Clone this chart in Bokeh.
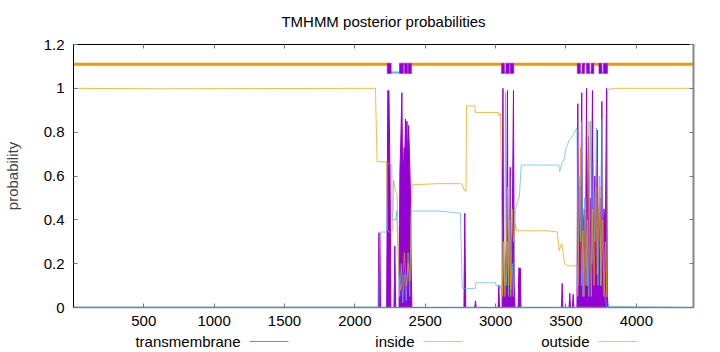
from bokeh.plotting import figure
from bokeh.models import Range1d, FixedTicker, LinearAxis
from bokeh.layouts import column
from bokeh.embed import file_html
from bokeh.resources import INLINE
from bokeh.core.properties import value

# ---------------- data ----------------
seq_len = 4406
title_text = "TMHMM posterior probabilities"
x_ticks = [500, 1000, 1500, 2000, 2500, 3000, 3500, 4000]
y_ticks = [0.0, 0.2, 0.4, 0.6, 0.8, 1.0, 1.2]
y_labels = ["0", "0.2", "0.4", "0.6", "0.8", "1", "1.2"]
legend_labels = ["transmembrane", "inside", "outside"]

# posterior probability curves (residue, probability)
tm_x = [1, 2166, 2170, 2178, 2182,
        2226, 2234, 2242, 2250, 2256,
        2278, 2284, 2290,
        2314, 2320, 2326, 2334, 2338, 2344, 2350, 2354, 2360, 2364, 2370, 2374, 2382, 2388, 2394, 2400, 2405,
        2775, 2781, 2788,
        2852, 2857, 2862,
        3018, 3023, 3028,
        3046, 3052, 3057, 3064, 3078, 3084, 3089, 3098, 3104, 3109, 3118, 3127, 3132, 3138,
        3160, 3165, 3176, 3180,
        3468, 3473, 3478,
        3522, 3527, 3532,
        3546, 3551, 3556,
        3578, 3584, 3589, 3598, 3604, 3612, 3617, 3630, 3640, 3646, 3651, 3660, 3665, 3672, 3680,
        3688, 3693, 3705, 3715, 3722, 3728, 3740, 3748, 3755, 3760, 3770, 3780, 3788, 3794, 3800,
        4406]
tm_y = [0.0, 0.0, 0.34, 0.34, 0.0,
        0.0, 0.99, 0.99, 0.6, 0.0,
        0.0, 0.28, 0.0,
        0.0, 0.62, 0.75, 0.98, 0.7, 0.62, 0.73, 0.66, 0.86, 0.7, 0.85, 0.68, 0.83, 0.7, 0.55, 0.2, 0.0,
        0.0, 0.43, 0.0,
        0.0, 0.03, 0.0,
        0.0, 0.1, 0.0,
        0.0, 1.0, 0.15, 0.1, 0.3, 0.99, 0.15, 0.3, 0.64, 0.2, 0.35, 0.99, 0.1, 0.0,
        0.0, 0.18, 0.18, 0.0,
        0.0, 0.11, 0.0,
        0.0, 0.065, 0.0,
        0.0, 0.06, 0.0,
        0.0, 0.93, 0.3, 0.55, 0.35, 0.98, 0.3, 0.45, 0.35, 1.0, 0.3, 0.78, 0.3, 0.5, 0.35,
        0.99, 0.3, 0.6, 0.4, 0.81, 0.35, 0.5, 0.35, 0.94, 0.3, 0.45, 0.35, 1.0, 0.05, 0.0,
        0.0]

inside_x = [1, 2170, 2176, 2225, 2230, 2262, 2266, 2290, 2296, 2305, 2318, 2330, 2340, 2352, 2365,
            2378, 2390, 2400, 2600, 2750, 2763, 2855, 2860, 2999, 3003, 3035, 3045, 3055, 3064,
            3070, 3076, 3085, 3092, 3100, 3108, 3118, 3126, 3140, 3165, 3168, 3182, 3449, 3455,
            3461, 3470, 3490, 3497, 3510, 3520, 3545, 3568, 3578, 3586, 3594, 3603, 3612, 3620,
            3632, 3642, 3654, 3662, 3675, 3684, 3694, 3704, 3716, 3728, 3740, 3748, 3756, 3765,
            3778, 3790, 3800, 4406]
inside_y = [0.002, 0.002, 0.344, 0.344, 0.66, 0.65, 0.40, 0.40, 0.44, 0.3, 0.05, 0.2, 0.02, 0.15, 0.03,
            0.25, 0.05, 0.44, 0.44, 0.43, 0.087, 0.087, 0.113, 0.113, 0.1, 0.1, 0.05, 0.3, 0.1,
            0.98, 0.1, 0.3, 0.05, 0.6, 0.08, 0.2, 0.05, 0.45, 0.50, 0.50, 0.65, 0.65, 0.62,
            0.63, 0.66, 0.68, 0.72, 0.74, 0.76, 0.78, 0.81, 0.82, 0.1, 0.6, 0.3, 0.85, 0.05,
            0.5, 0.1, 0.4, 0.05, 0.85, 0.2, 0.66, 0.3, 0.82, 0.1, 0.55, 0.1, 0.86, 0.2,
            0.05, 0.0, 0.005, 0.0]

outside_x = [1, 600, 2146, 2158, 2225, 2232, 2262, 2268, 2275, 2290, 2300, 2312, 2325, 2340, 2352,
             2365, 2380, 2392, 2400, 2407, 2600, 2750, 2763, 2778, 2790, 2793, 2852, 2856, 3021,
             3025, 3035, 3042, 3050, 3058, 3066, 3075, 3085, 3092, 3100, 3108, 3118, 3128, 3140,
             3150, 3177, 3367, 3438, 3452, 3462, 3470, 3480, 3490, 3510, 3580, 3584, 3592, 3603,
             3610, 3620, 3628, 3640, 3652, 3663, 3670, 3680, 3690, 3700, 3712, 3722, 3738, 3748,
             3760, 3770, 3780, 3790, 3795, 3802, 3850, 4406]
outside_y = [1.0, 0.998, 1.0, 0.665, 0.665, 0.35, 0.34, 0.36, 0.58, 0.53, 0.52, 0.15, 0.08, 0.12, 0.25,
             0.1, 0.2, 0.12, 0.45, 0.56, 0.565, 0.565, 0.56, 0.535, 0.53, 0.92, 0.92, 0.89, 0.89,
             0.875, 0.885, 0.5, 0.05, 0.3, 0.05, 0.2, 0.55, 0.1, 0.4, 0.05, 0.45, 0.3, 0.38,
             0.35, 0.35, 0.35, 0.345, 0.26, 0.28, 0.29, 0.25, 0.2, 0.19, 0.19, 0.05, 0.4, 0.73,
             0.1, 0.35, 0.05, 0.5, 0.1, 0.85, 0.3, 0.05, 0.45, 0.1, 0.55, 0.15, 0.6, 0.1,
             0.4, 0.05, 0.3, 0.05, 0.99, 0.995, 1.0, 1.0]

# predicted topology (residue ranges)
tm_start = [2230, 2317, 2353, 2379, 3042, 3073, 3104, 3580, 3615, 3646, 3679, 3734, 3765]
tm_end   = [2258, 2345, 2374, 2402, 3063, 3097, 3129, 3603, 3632, 3667, 3698, 3755, 3795]
in_start = [2258, 2374, 3063, 3603, 3667, 3755]
in_end   = [2317, 2379, 3073, 3615, 3679, 3765]
out_start = [1, 2345, 2402, 3097, 3129, 3632, 3698, 3795]
out_end   = [2230, 2353, 3042, 3104, 3580, 3646, 3734, 4406]

# ---------------- style ----------------
FONT = "Liberation Sans"
FS = "15px"
C_TM = "#9400d3"
C_IN = "#56b4e9"
C_OUT = "#e69f00"
OUT_LEVEL = 1.11
IN_LEVEL = 1.072
TM_BOTTOM, TM_TOP = 1.068, 1.115

def strip(height):
    f = figure(width=720, height=height, x_range=Range1d(73, 693), y_range=Range1d(0, height),
               output_backend="svg", toolbar_location=None,
               min_border_left=73, min_border_right=27, min_border_top=0, min_border_bottom=0,
               x_axis_location=None, y_axis_location=None)
    f.outline_line_color = None
    f.grid.visible = False
    return f

# title strip (page y 0..30)
ttl = strip(30)
ttl.text(x=[383], y=[9], text=[title_text], text_align="center", text_baseline="middle",
         text_font=value(FONT), text_font_size=FS, text_color="#000000")

# main plot (page y 30..330, frame 44..307)
p = figure(width=720, height=300, x_range=Range1d(1, seq_len), y_range=Range1d(0, 1.2),
           output_backend="svg", toolbar_location=None,
           min_border_left=73, min_border_right=27, min_border_top=14, min_border_bottom=23)
p.outline_line_color = None
p.grid.visible = False

def style_axis(ax, labels=True):
    ax.major_tick_in = 4
    ax.major_tick_out = 0
    ax.minor_tick_line_color = None
    ax.major_tick_line_color = "#777777"
    ax.major_label_text_font = FONT
    if labels:
        ax.major_label_text_font_size = FS
        ax.major_label_text_color = "#000000"
    else:
        ax.major_label_text_font_size = "1px"
        ax.major_label_text_color = None

p.xaxis.ticker = FixedTicker(ticks=x_ticks)
p.yaxis.ticker = FixedTicker(ticks=y_ticks)
style_axis(p.xaxis[0])
style_axis(p.yaxis[0])
p.yaxis.major_label_overrides = {t: s for t, s in zip(y_ticks, y_labels)}
p.xaxis.major_label_standoff = 8
p.yaxis.major_label_standoff = 9
p.xaxis.axis_line_color = "#6f8797"
p.xaxis.axis_line_width = 1.5
p.yaxis.axis_line_color = "#000000"
p.yaxis.axis_label = "probability"
p.yaxis.axis_label_text_font = FONT
p.yaxis.axis_label_text_font_size = FS
p.yaxis.axis_label_text_font_style = "normal"
p.yaxis.axis_label_standoff = 20

ax_r = LinearAxis(ticker=FixedTicker(ticks=y_ticks), major_label_standoff=0)
style_axis(ax_r, labels=False)
ax_r.axis_line_color = "#888888"
ax_r.axis_line_width = 2
p.add_layout(ax_r, "right")

ax_t = LinearAxis(ticker=FixedTicker(ticks=x_ticks), major_label_standoff=0)
style_axis(ax_t, labels=False)
ax_t.axis_line_color = "#000000"
p.add_layout(ax_t, "above")

# curves
p.varea(x=tm_x, y1=[0] * len(tm_x), y2=tm_y, fill_color=C_TM)
p.line(tm_x, tm_y, line_color=C_TM, line_width=1)
p.line(inside_x, inside_y, line_color=C_IN, line_width=1, line_alpha=0.7)
p.line(outside_x, outside_y, line_color=C_OUT, line_width=1, line_alpha=0.7)

# topology bar
p.segment(x0=out_start, x1=out_end, y0=OUT_LEVEL, y1=OUT_LEVEL, line_color=C_OUT, line_width=3)
p.segment(x0=in_start, x1=in_end, y0=IN_LEVEL, y1=IN_LEVEL, line_color=C_IN, line_width=2)
p.quad(left=tm_start, right=tm_end, bottom=TM_BOTTOM, top=TM_TOP,
       fill_color=C_TM, line_color=C_TM, line_alpha=0.5, line_width=1)

# legend strip (page y 330..352)
leg = strip(22)
text_right = [240, 414, 589]
leg.text(x=text_right, y=[11] * 3, text=legend_labels, text_align="right",
         text_baseline="middle", text_font=value(FONT), text_font_size=FS, text_color="#000000")
leg.segment(x0=[t + 9 for t in text_right], x1=[t + 48 for t in text_right],
            y0=[11] * 3, y1=[11] * 3, line_color=[C_TM, C_IN, C_OUT], line_width=1, line_alpha=0.6)

layout = column(ttl, p, leg, spacing=0)
open("out.html", "w").write(file_html(layout, INLINE))
